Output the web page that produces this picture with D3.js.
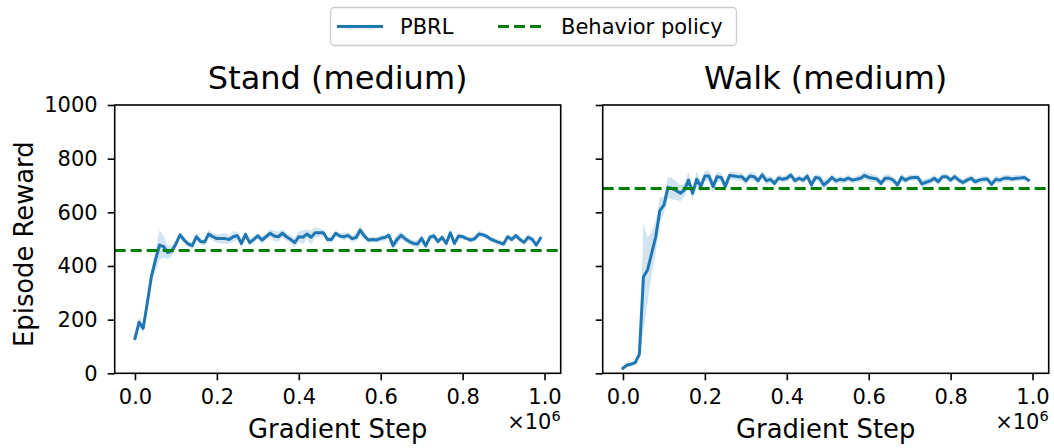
<!DOCTYPE html>
<html>
<head>
<meta charset="utf-8">
<script src="https://cdn.jsdelivr.net/npm/d3@7"></script>
<style>
  html, body { margin: 0; padding: 0; background: #fff; }
  svg { display: block; font-family: "DejaVu Sans", sans-serif; }
</style>
</head>
<body>
<script>
// ---------- data ----------
const panelTitles = ["Stand (medium)", "Walk (medium)"];
const seriesName = "PBRL";
const behaviorName = "Behavior policy";
const xLabel = "Gradient Step";
const yLabel = "Episode Reward";
const xTickValues = [0, 0.2, 0.4, 0.6, 0.8, 1.0];
const yTickValues = [0, 200, 400, 600, 800, 1000];
const stepScale = 1e6;
// evaluation grid: every 10k gradient steps
const steps = d3.range(0, 1000000, 10000);

const standMean = [130,190,168,261,360,422,478,472,450,456,
  482,516,497,482,476,509,491,489,519,509,
  502,502,502,499,509,513,484,518,487,499,
  512,497,509,522,512,509,522,509,499,487,
  509,507,519,507,524,524,524,499,499,522,
  512,509,514,502,506,534,512,497,499,497,
  503,506,514,476,499,514,501,491,484,482,
  503,475,507,512,491,507,484,524,484,512,
  509,502,497,502,519,516,509,499,493,487,
  482,509,499,513,499,488,507,499,478,503];
const standStd = [15,20,18,20,25,40,55,40,25,20,
  15,12,12,10,12,15,12,12,15,15,
  15,18,20,15,20,15,15,12,10,12,
  12,15,12,15,20,18,15,15,15,18,
  20,25,18,25,20,15,12,12,12,10,
  10,15,12,12,15,20,12,10,10,10,
  12,12,10,15,20,15,12,12,12,15,
  18,12,10,12,10,12,10,12,10,10,
  10,8,10,12,12,10,10,10,10,10,
  12,10,12,10,10,10,12,12,10,10];
const standBehavior = 458;

const walkMean = [19,31,34,40,71,360,385,447,509,606,
  627,693,689,681,671,683,720,671,723,696,
  735,735,696,733,730,696,737,735,733,733,
  718,735,733,718,740,718,723,708,728,723,
  727,739,718,727,720,735,702,730,727,702,
  714,730,717,723,720,728,720,723,727,737,
  730,727,724,708,727,727,720,702,730,720,
  728,730,730,706,712,717,727,714,733,733,
  720,733,720,711,720,727,714,720,723,724,
  704,723,720,727,728,724,727,728,730,720];
const walkStd = [8,8,8,8,10,200,120,80,60,50,
  30,40,40,35,30,25,30,25,30,20,
  20,20,25,20,15,20,15,15,15,15,
  15,15,15,12,15,15,12,12,12,12,
  12,12,12,12,12,15,15,12,15,20,
  12,12,12,12,12,12,12,12,15,15,
  15,15,12,15,15,15,12,15,15,12,
  12,12,12,15,15,12,12,12,12,12,
  12,12,12,12,12,12,12,12,12,12,
  12,15,12,12,12,12,12,12,10,10];
const walkBehavior = 689;

// ---------- drawing ----------
const W = 1054, H = 448;
const blue = "#1f77b4", green = "#008000";
const svg = d3.select("body").append("svg").attr("width", W).attr("height", H);

const panels = [
  { title: panelTitles[0], mean: standMean, std: standStd, behavior: standBehavior, left: 114.7, yLabels: true },
  { title: panelTitles[1], mean: walkMean,  std: walkStd,  behavior: walkBehavior,  left: 602.7, yLabels: false }
];
const axW = 446, axTop = 105, axBottom = 373.3;
const tickFont = 21, labelFont = 25.8, titleFont = 32;

panels.forEach(p => {
  const x = d3.scaleLinear().domain([-0.05 * 990000, 990000 * 1.05]).range([p.left, p.left + axW]);
  const y = d3.scaleLinear().domain([0, 1000]).range([axBottom, axTop]);
  const g = svg.append("g");

  const clipId = "clip" + Math.round(p.left);
  g.append("clipPath").attr("id", clipId).append("rect")
    .attr("x", p.left).attr("y", axTop).attr("width", axW).attr("height", axBottom - axTop);
  const plot = g.append("g").attr("clip-path", `url(#${clipId})`);

  const data = steps.map((s, i) => ({ s, m: p.mean[i], sd: p.std[i] }));
  plot.append("path").datum(data)
    .attr("d", d3.area().x(d => x(d.s)).y0(d => y(d.m - d.sd)).y1(d => y(d.m + d.sd)))
    .attr("fill", blue).attr("fill-opacity", 0.2).attr("stroke", "none");
  plot.append("path").datum(data)
    .attr("d", d3.line().x(d => x(d.s)).y(d => y(d.m)))
    .attr("fill", "none").attr("stroke", blue).attr("stroke-width", 3)
    .attr("stroke-linejoin", "round").attr("stroke-linecap", "square");
  plot.append("line")
    .attr("x1", p.left).attr("x2", p.left + axW)
    .attr("y1", y(p.behavior)).attr("y2", y(p.behavior))
    .attr("stroke", green).attr("stroke-width", 3).attr("stroke-dasharray", "11,5");

  // axes
  const xAxis = d3.axisBottom(x).tickValues(xTickValues.map(v => v * stepScale))
    .tickFormat(v => d3.format(".1f")(v / stepScale)).tickSize(7).tickPadding(9);
  const xg = g.append("g").attr("transform", `translate(0,${axBottom})`).call(xAxis);
  const yAxis = d3.axisLeft(y).tickValues(yTickValues).tickSize(7).tickPadding(10)
    .tickFormat(p.yLabels ? d3.format("d") : () => "");
  const yg = g.append("g").attr("transform", `translate(${p.left},0)`).call(yAxis);
  [xg, yg].forEach(a => {
    a.select(".domain").remove();
    a.selectAll(".tick line").attr("stroke", "#000").attr("stroke-width", 1.6);
    a.selectAll(".tick text").attr("fill", "#000")
      .style("font-family", "DejaVu Sans").style("font-size", tickFont + "px");
  });

  g.append("rect").attr("x", p.left).attr("y", axTop).attr("width", axW).attr("height", axBottom - axTop)
    .attr("fill", "none").attr("stroke", "#000").attr("stroke-width", 1.6);

  // title
  g.append("text").attr("x", p.left + axW / 2).attr("y", 89).attr("text-anchor", "middle")
    .style("font-size", titleFont + "px").attr("fill", "#000").text(p.title);
  // x label
  g.append("text").attr("x", p.left + axW / 2).attr("y", 438).attr("text-anchor", "middle")
    .style("font-size", labelFont + "px").attr("fill", "#000").text(xLabel);
  // offset text
  const off = g.append("text").attr("x", p.left + axW).attr("y", 429).attr("text-anchor", "end")
    .style("font-size", tickFont + "px").attr("fill", "#000");
  off.append("tspan").text("\u00d710");
  off.append("tspan").attr("dy", -8).style("font-size", "14.5px").text("6");

  if (p.yLabels) {
    g.append("text").attr("transform", `translate(33,${(axTop + axBottom) / 2 + 5}) rotate(-90)`)
      .attr("text-anchor", "middle").style("font-size", labelFont + "px").attr("fill", "#000").text(yLabel);
  }
});

// legend
const lg = svg.append("g");
lg.append("rect").attr("x", 330.5).attr("y", 7.5).attr("width", 406).attr("height", 38).attr("rx", 4)
  .attr("fill", "#fff").attr("stroke", "#cccccc").attr("stroke-width", 1.3);
lg.append("line").attr("x1", 337).attr("x2", 383).attr("y1", 26.5).attr("y2", 26.5)
  .attr("stroke", blue).attr("stroke-width", 3);
lg.append("text").attr("x", 400).attr("y", 34).style("font-size", "21px").attr("fill", "#000").text(seriesName);
lg.append("line").attr("x1", 498).attr("x2", 544).attr("y1", 26.5).attr("y2", 26.5)
  .attr("stroke", green).attr("stroke-width", 3).attr("stroke-dasharray", "11,5");
lg.append("text").attr("x", 561).attr("y", 34).style("font-size", "21px").attr("fill", "#000").text(behaviorName);
</script>
</body>
</html>
